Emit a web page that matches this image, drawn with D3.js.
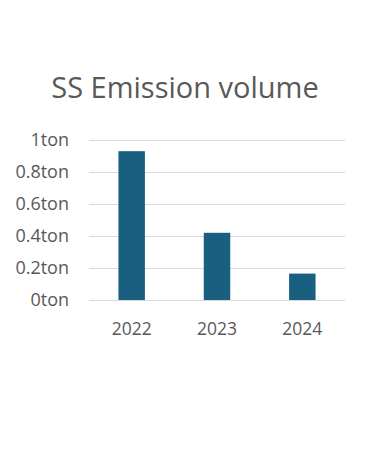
<!DOCTYPE html>
<html>
<head>
<meta charset="utf-8">
<script src="https://cdn.jsdelivr.net/npm/d3@7"></script>
<style>
  body { margin: 0; background: #fff; }
  text { font-family: "Open Sans", "Noto Sans", sans-serif; fill: #595959; }
</style>
</head>
<body>
<div id="chart"></div>
<script>
var years = ["2022", "2023", "2024"];
var emission = [0.93, 0.42, 0.165];
var yTicks = [0, 0.2, 0.4, 0.6, 0.8, 1];

var wi = 370, he = 450;
var plotLeft = 89, plotRight = 345, plotTop = 140, plotBottom = 300;

var svg = d3.select("#chart").append("svg")
    .attr("width", wi)
    .attr("height", he);

var xScale = d3.scaleBand()
    .domain(years)
    .range([plotLeft, plotRight])
    .paddingInner(0.69)
    .paddingOuter(0.345);

var yScale = d3.scaleLinear()
    .domain([0, 1])
    .range([plotBottom, plotTop]);

// gridlines
svg.append("g").selectAll("line")
    .data(yTicks)
    .enter()
    .append("line")
    .attr("x1", plotLeft)
    .attr("x2", plotRight)
    .attr("y1", function(d) { return Math.round(yScale(d)) + 0.5; })
    .attr("y2", function(d) { return Math.round(yScale(d)) + 0.5; })
    .attr("stroke", "#d9d9d9")
    .attr("stroke-width", 1.2);

// y labels
svg.append("g").selectAll("text")
    .data(yTicks)
    .enter()
    .append("text")
    .attr("x", 69)
    .attr("y", function(d) { return yScale(d); })
    .attr("dy", "0.35em")
    .attr("text-anchor", "end")
    .style("font-size", "18px")
    .text(function(d) { return d + "ton"; });

// bars
svg.append("g").selectAll("rect")
    .data(emission)
    .enter()
    .append("rect")
    .attr("x", function(d, i) { return xScale(years[i]); })
    .attr("y", function(d) { return yScale(d); })
    .attr("width", xScale.bandwidth())
    .attr("height", function(d) { return yScale(0) - yScale(d); })
    .attr("fill", "#185f80");

// x labels
svg.append("g").selectAll("text")
    .data(years)
    .enter()
    .append("text")
    .attr("x", function(d) { return xScale(d) + xScale.bandwidth() / 2; })
    .attr("y", 335)
    .attr("text-anchor", "middle")
    .style("font-size", "17.5px")
    .text(function(d) { return d; });

// title
svg.append("text")
    .attr("x", 185)
    .attr("y", 98)
    .attr("text-anchor", "middle")
    .style("font-size", "29px")
    .text("SS Emission volume");
</script>
</body>
</html>
